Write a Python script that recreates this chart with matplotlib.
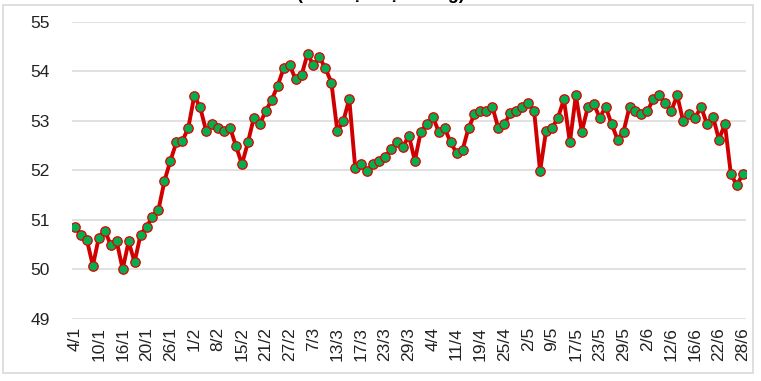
import matplotlib
matplotlib.use("Agg")
from matplotlib import pyplot as plt
from matplotlib.patches import Rectangle

# gia theo phien, nhan truc x cu 4 phien mot lan
values = [50.86, 50.70, 50.59, 50.07, 50.64, 50.78, 50.49, 50.56, 50.00, 50.56,
          50.14, 50.70, 50.86, 51.06, 51.20, 51.78, 52.19, 52.56, 52.59, 52.85,
          53.50, 53.27, 52.79, 52.93, 52.86, 52.79, 52.86, 52.49, 52.12, 52.56,
          53.06, 52.93, 53.20, 53.42, 53.71, 54.06, 54.12, 53.84, 53.92, 54.35,
          54.12, 54.28, 54.06, 53.77, 52.79, 52.99, 53.44, 52.05, 52.12, 51.98,
          52.12, 52.19, 52.27, 52.42, 52.56, 52.47, 52.70, 52.19, 52.78, 52.93,
          53.08, 52.78, 52.85, 52.56, 52.35, 52.41, 52.85, 53.13, 53.20, 53.20,
          53.28, 52.85, 52.93, 53.15, 53.20, 53.27, 53.35, 53.20, 51.98, 52.79,
          52.85, 53.06, 53.43, 52.56, 53.51, 52.78, 53.27, 53.34, 53.06, 53.28,
          52.93, 52.62, 52.78, 53.28, 53.20, 53.13, 53.20, 53.43, 53.51, 53.35,
          53.20, 53.51, 52.99, 53.13, 53.06, 53.28, 52.93, 53.08, 52.62, 52.93,
          51.92, 51.70, 51.92]

tick_labels = ["4/1", "10/1", "16/1", "20/1", "26/1", "1/2", "8/2", "15/2", "21/2",
               "27/2", "7/3", "13/3", "17/3", "23/3", "29/3", "4/4", "11/4", "19/4",
               "25/4", "2/5", "9/5", "17/5", "23/5", "29/5", "2/6", "12/6", "16/6",
               "22/6", "28/6"]
tick_step = 4

plt.rcParams['font.family'] = ['Liberation Sans', 'DejaVu Sans']

fig = plt.figure(figsize=(7.61, 3.81), dpi=100)
ax = fig.add_axes([0.0946, 0.1635, 0.8854, 0.7795])

x = list(range(len(values)))
ax.plot(x, values, color='#D00000', linewidth=2.8, marker='o',
        markersize=6.8, markerfacecolor='#00B050', markeredgecolor='#E00000',
        markeredgewidth=0.9, zorder=3)

ax.set_xlim(-0.5, len(values) - 0.5)
ax.set_ylim(49, 55)
ax.set_yticks(range(49, 56))
ax.set_xticks(x[::tick_step])
ax.set_xticklabels(tick_labels, rotation=90)
ax.grid(axis='y', color='#D9D9D9', linewidth=1.1)
ax.set_axisbelow(True)
for s in ax.spines.values():
    s.set_visible(False)
ax.tick_params(axis='y', length=0, pad=16, labelsize=12.5, labelcolor='#222222')
ax.tick_params(axis='x', length=0, pad=6, labelsize=12.5, labelcolor='#222222')

# khung ngoai cua bieu do
fig.patches.append(Rectangle((3 / 761, 1 - 373 / 381), 750 / 761, 368 / 381,
                             transform=fig.transFigure, fill=False,
                             edgecolor='#D9D9D9', linewidth=1.2))

# tieu de bi cat o tren, chi con thay phan duoi
fig.text(0.5, 1 + 1.0 / 381, "(Đơn vị: triệu đồng)", ha='center', va='baseline',
         fontsize=13, fontweight='bold')

fig.savefig("out.png", dpi=100)
